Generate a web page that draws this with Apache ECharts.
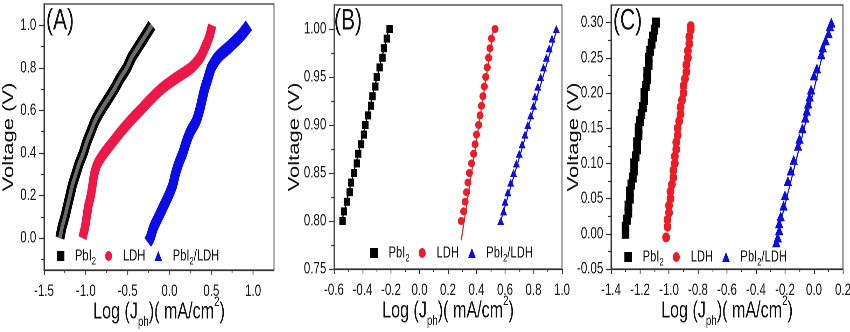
<!DOCTYPE html>
<html>
<head>
<meta charset="utf-8">
<script src="https://cdn.jsdelivr.net/npm/echarts@6/dist/echarts.min.js"></script>
<style>
  html, body { margin: 0; padding: 0; background: #fff; overflow: hidden; width: 850px; height: 332px; }
  /* the chart is laid out wide and condensed horizontally */
  #chart { position: absolute; left: 0; top: 0; width: 1214.29px; height: 332px; transform: scaleX(0.7); transform-origin: 0 0; }
</style>
</head>
<body>
<div id="chart"></div>
<script>
// ---------- panel A : full range ----------
const aPbI2V = [0, 0.05, 0.10, 0.15, 0.20, 0.25, 0.30, 0.35, 0.40, 0.45, 0.50, 0.55, 0.60, 0.65, 0.70, 0.75, 0.80, 0.85, 0.90, 0.95, 1.00];
const aPbI2J = [-1.31, -1.285, -1.25, -1.22, -1.19, -1.16, -1.12, -1.08, -1.03, -0.99, -0.94, -0.89, -0.82, -0.74, -0.66, -0.59, -0.51, -0.45, -0.37, -0.29, -0.21];
const aLdhV = [0, 0.05, 0.10, 0.15, 0.20, 0.25, 0.30, 0.35, 0.40, 0.45, 0.50, 0.55, 0.60, 0.65, 0.70, 0.75, 0.80, 0.85, 0.90, 0.95, 1.00];
const aLdhJ = [-1.04, -1.01, -0.99, -0.97, -0.94, -0.92, -0.90, -0.86, -0.78, -0.68, -0.58, -0.47, -0.35, -0.23, -0.10, 0.07, 0.26, 0.37, 0.43, 0.48, 0.51];
const aMixV = [-0.02, 0, 0.05, 0.10, 0.15, 0.20, 0.25, 0.30, 0.35, 0.40, 0.45, 0.50, 0.55, 0.60, 0.65, 0.70, 0.75, 0.80, 0.85, 0.90, 0.95, 1.00];
const aMixJ = [-0.26, -0.23, -0.19, -0.13, -0.07, -0.01, 0.04, 0.07, 0.11, 0.16, 0.20, 0.25, 0.32, 0.36, 0.39, 0.42, 0.46, 0.50, 0.58, 0.72, 0.85, 0.95];

// ---------- panel B : 0.80 - 1.00 V ----------
const bV = [0.80, 0.81, 0.82, 0.83, 0.84, 0.85, 0.86, 0.87, 0.88, 0.89, 0.90, 0.91, 0.92, 0.93, 0.94, 0.95, 0.96, 0.97, 0.98, 0.99, 1.00];
const bPbI2J = [-0.54, -0.53, -0.51, -0.49, -0.48, -0.46, -0.44, -0.43, -0.41, -0.39, -0.38, -0.36, -0.34, -0.33, -0.31, -0.30, -0.28, -0.26, -0.25, -0.23, -0.21];
const bLdhJ = [0.293, 0.31, 0.32, 0.33, 0.34, 0.35, 0.365, 0.38, 0.39, 0.40, 0.415, 0.425, 0.435, 0.445, 0.455, 0.465, 0.475, 0.485, 0.495, 0.505, 0.53];
const bMixJ = [0.57, 0.59, 0.60, 0.62, 0.64, 0.66, 0.68, 0.70, 0.72, 0.74, 0.76, 0.78, 0.80, 0.81, 0.83, 0.85, 0.87, 0.89, 0.91, 0.93, 0.96];
// linear fits
const bFitPbI2V = [0.80, 1.00], bFitPbI2J = [-0.545, -0.215];
const bFitLdhV = [0.78, 1.00], bFitLdhJ = [0.293, 0.52];
const bFitMixV = [0.80, 1.00], bFitMixJ = [0.57, 0.965];

// ---------- panel C : 0 - 0.30 V ----------
const cPbI2V = [0, 0.01, 0.02, 0.03, 0.04, 0.05, 0.06, 0.07, 0.08, 0.09, 0.10, 0.11, 0.12, 0.13, 0.14, 0.15, 0.16, 0.17, 0.18, 0.19, 0.20, 0.21, 0.22, 0.23, 0.24, 0.25, 0.26, 0.27, 0.28, 0.29, 0.30];
const cPbI2J = [-1.30, -1.30, -1.29, -1.28, -1.28, -1.27, -1.27, -1.26, -1.25, -1.24, -1.24, -1.23, -1.22, -1.22, -1.21, -1.21, -1.20, -1.19, -1.18, -1.17, -1.17, -1.16, -1.15, -1.15, -1.14, -1.14, -1.13, -1.12, -1.11, -1.10, -1.09];
const cLdhV = [-0.005, 0.01, 0.02, 0.03, 0.04, 0.05, 0.06, 0.07, 0.08, 0.09, 0.10, 0.11, 0.12, 0.13, 0.14, 0.15, 0.16, 0.17, 0.18, 0.19, 0.20, 0.21, 0.22, 0.23, 0.24, 0.25, 0.26, 0.27, 0.28, 0.29, 0.295];
const cLdhJ = [-1.02, -1.01, -1.01, -1.00, -1.00, -0.99, -0.99, -0.98, -0.97, -0.97, -0.96, -0.96, -0.95, -0.95, -0.94, -0.94, -0.93, -0.92, -0.92, -0.91, -0.90, -0.90, -0.89, -0.88, -0.88, -0.87, -0.87, -0.86, -0.86, -0.85, -0.85];
const cMixV = [-0.012, -0.005, 0.005, 0.015, 0.025, 0.040, 0.055, 0.075, 0.090, 0.105, 0.125, 0.135, 0.150, 0.165, 0.175, 0.185, 0.195, 0.205, 0.225, 0.235, 0.255, 0.265, 0.275, 0.285, 0.295, 0.300];
const cMixJ = [-0.26, -0.25, -0.24, -0.24, -0.23, -0.21, -0.20, -0.18, -0.16, -0.14, -0.11, -0.10, -0.08, -0.06, -0.05, -0.04, -0.03, -0.02, 0.00, 0.02, 0.05, 0.06, 0.08, 0.10, 0.11, 0.12];
const cFitMixV = [-0.012, 0.30], cFitMixJ = [-0.265, 0.115];

// ---------- tick values ----------
const aTicksX = [-1.5, -1.0, -0.5, 0.0, 0.5, 1.0];
const aMinorX = [-1.25, -0.75, -0.25, 0.25, 0.75];
const aTicksY = [0.0, 0.2, 0.4, 0.6, 0.8, 1.0];
const aMinorY = [-0.1, 0.1, 0.3, 0.5, 0.7, 0.9];
const bTicksX = [-0.6, -0.4, -0.2, 0.0, 0.2, 0.4, 0.6, 0.8, 1.0];
const bMinorX = [-0.5, -0.3, -0.1, 0.1, 0.3, 0.5, 0.7, 0.9];
const bTicksY = [0.75, 0.80, 0.85, 0.90, 0.95, 1.00];
const bMinorY = [0.775, 0.825, 0.875, 0.925, 0.975];
const cTicksX = [-1.4, -1.2, -1.0, -0.8, -0.6, -0.4, -0.2, 0.0, 0.2];
const cMinorX = [-1.3, -1.1, -0.9, -0.7, -0.5, -0.3, -0.1, 0.1];
const cTicksY = [-0.05, 0.00, 0.05, 0.10, 0.15, 0.20, 0.25, 0.30];
const cMinorY = [-0.025, 0.025, 0.075, 0.125, 0.175, 0.225, 0.275];

const panelLabels = ['(A)', '(B)', '(C)'];
const seriesNames = ['PbI2', 'LDH', 'PbI2/LDH'];

// ---------- styling ----------
const FONT = 'Liberation Sans, Arial, Helvetica, sans-serif';
const SX = 0.7;                  // horizontal condensing of the container
const px = v => v / SX;          // screen x distance -> chart x distance
const BLACK = '#000000', GRAY = '#6a6a6a', RED_A = '#ee1848', RED = '#ee1c25', BLUE = '#0c0ce6';
const AXIS = '#333333';
const TICK_FONT = 16.5;

const pairs = (J, V) => J.map((j, i) => [j, V[i]]);

const grids = [
  { left: px(44), top: 4, width: px(230), height: 266 },
  { left: px(334), top: 5, width: px(228), height: 264 },
  { left: px(611), top: 5, width: px(232), height: 264 }
];

const xTitle = '{m|Log (J}{s|ph}{m|)( mA/cm}{p|2}{m|)}';
const xTitleStyle = {
  rich: {
    m: { fontSize: 23, lineHeight: 34, color: '#111', fontFamily: FONT },
    s: { fontSize: 14, lineHeight: 13, verticalAlign: 'bottom', color: '#111', fontFamily: FONT },
    p: { fontSize: 14, lineHeight: 22, verticalAlign: 'top', color: '#111', fontFamily: FONT }
  }
};

function mainX(gi, min, max, ticks, dec) {
  return {
    type: 'value', gridIndex: gi, position: 'bottom', min, max,
    axisLine: { show: true, onZero: false, lineStyle: { color: AXIS, width: 1.2 } },
    axisTick: { show: true, length: 5, customValues: ticks, lineStyle: { color: AXIS, width: 1.2 } },
    axisLabel: { customValues: ticks, formatter: v => v.toFixed(dec), fontSize: TICK_FONT, color: '#1a1a1a', margin: 13, fontFamily: FONT },
    splitLine: { show: false },
    name: xTitle, nameLocation: 'middle', nameGap: 25, nameMoveOverlap: false, nameTextStyle: xTitleStyle
  };
}
function minorX(gi, min, max, ticks) {
  return {
    type: 'value', gridIndex: gi, position: 'bottom', min, max,
    axisLine: { show: false, onZero: false },
    axisTick: { show: true, length: 3, customValues: ticks, lineStyle: { color: AXIS, width: 1.2 } },
    axisLabel: { show: false }, splitLine: { show: false }
  };
}
function mainY(gi, min, max, ticks, dec, gap) {
  return {
    type: 'value', gridIndex: gi, position: 'left', min, max,
    axisLine: { show: true, onZero: false, lineStyle: { color: AXIS, width: 1.4 } },
    axisTick: { show: true, length: 7, customValues: ticks, lineStyle: { color: AXIS, width: 1.2 } },
    axisLabel: { customValues: ticks, formatter: v => v.toFixed(dec), fontSize: TICK_FONT, color: '#1a1a1a', margin: 11, fontFamily: FONT },
    splitLine: { show: false },
    name: 'Voltage (V)', nameLocation: 'middle', nameGap: gap, nameMoveOverlap: false,
    nameTextStyle: { fontSize: 22, color: '#111', fontFamily: FONT }
  };
}
function minorY(gi, min, max, ticks) {
  return {
    type: 'value', gridIndex: gi, position: 'left', min, max,
    axisLine: { show: false, onZero: false },
    axisTick: { show: true, length: 4, customValues: ticks, lineStyle: { color: AXIS, width: 1.2 } },
    axisLabel: { show: false }, splitLine: { show: false }
  };
}

const xAxes = [
  mainX(0, -1.5, 1.25, aTicksX, 1), minorX(0, -1.5, 1.25, aMinorX),
  mainX(1, -0.6, 1.0, bTicksX, 1), minorX(1, -0.6, 1.0, bMinorX),
  mainX(2, -1.4, 0.2, cTicksX, 1), minorX(2, -1.4, 0.2, cMinorX)
];
const yAxes = [
  mainY(0, -0.15, 1.1, aTicksY, 1, 39), minorY(0, -0.15, 1.1, aMinorY),
  mainY(1, 0.75, 1.025, bTicksY, 2, 45), minorY(1, 0.75, 1.025, bMinorY),
  mainY(2, -0.05, 0.325, cTicksY, 2, 42), minorY(2, -0.05, 0.325, cMinorY)
];

function band(name, J, V, color, width, z) {
  return {
    name, type: 'line', xAxisIndex: 0, yAxisIndex: 0, data: pairs(J, V),
    showSymbol: false, smooth: 0.25, lineStyle: { color, width, cap: 'butt', join: 'round' },
    itemStyle: { color }, z, animation: false
  };
}
function dots(name, gi, J, V, symbol, size, color) {
  return {
    name, type: 'scatter', xAxisIndex: gi * 2, yAxisIndex: gi * 2, data: pairs(J, V),
    symbol, symbolSize: size, itemStyle: { color, opacity: 1 }, z: 4, animation: false
  };
}
function fit(gi, J, V, color) {
  return {
    name: 'fit', type: 'line', xAxisIndex: gi * 2, yAxisIndex: gi * 2, data: pairs(J, V),
    showSymbol: false, lineStyle: { color, width: 1.6 }, itemStyle: { color }, z: 3, animation: false
  };
}

const series = [
  band(seriesNames[0], aPbI2J, aPbI2V, BLACK, 13, 2),
  band('PbI2 core', aPbI2J, aPbI2V, GRAY, 5, 3),
  band(seriesNames[1], aLdhJ, aLdhV, RED_A, 12, 2),
  band(seriesNames[2], aMixJ, aMixV, BLUE, 13, 2),

  fit(1, bFitPbI2J, bFitPbI2V, BLACK),
  fit(1, bFitLdhJ, bFitLdhV, RED),
  fit(1, bFitMixJ, bFitMixV, BLUE),
  dots(seriesNames[0], 1, bPbI2J, bV, 'rect', [9, 8], BLACK),
  dots(seriesNames[1], 1, bLdhJ, bV, 'circle', [10, 8], RED),
  dots(seriesNames[2], 1, bMixJ, bV, 'triangle', [10, 8], BLUE),

  fit(2, cFitMixJ, cFitMixV, BLUE),
  dots(seriesNames[0], 2, cPbI2J, cPbI2V, 'rect', [11, 10], BLACK),
  dots(seriesNames[1], 2, cLdhJ, cLdhV, 'circle', [11, 10], RED),
  dots(seriesNames[2], 2, cMixJ, cMixV, 'triangle', [12, 10], BLUE)
];

const legendRich = {
  g: { width: 10, fontSize: 16, lineHeight: 22, fontFamily: FONT },
  t: { fontSize: 16, lineHeight: 22, color: '#111', fontFamily: FONT },
  s: { fontSize: 11, lineHeight: 7, verticalAlign: 'bottom', color: '#111', fontFamily: FONT }
};
const legendText = n => n === 'LDH' ? '{g| }{t|LDH}' : (n === 'PbI2' ? '{g| }{t|PbI}{s|2}' : '{g| }{t|PbI}{s|2}{t|/LDH}');
const legendPos = [{ left: 81, top: 248 }, { left: 529, top: 245 }, { left: 892, top: 249 }];
const legends = legendPos.map((p, i) => ({
  left: p.left, top: p.top, padding: 0, itemGap: 13, itemWidth: 11, itemHeight: 10,
  selectedMode: false, orient: 'horizontal',
  data: [
    { name: seriesNames[0], icon: 'rect', itemStyle: { color: BLACK } },
    { name: seriesNames[1], icon: 'circle', itemStyle: { color: i === 0 ? RED_A : RED } },
    { name: seriesNames[2], icon: 'triangle', itemStyle: { color: BLUE } }
  ],
  formatter: legendText,
  textStyle: { rich: legendRich, color: '#111', fontFamily: FONT }
}));

const titleLeft = [px(46), px(334), px(613)];
const titles = panelLabels.map((t, i) => ({
  text: t, left: titleLeft[i], top: 6, padding: 0,
  textStyle: { fontSize: 30, fontWeight: 'normal', color: '#111', fontFamily: FONT }
}));

const chart = echarts.init(document.getElementById('chart'), null, { renderer: 'canvas', devicePixelRatio: 2 });
chart.setOption({
  animation: false,
  backgroundColor: '#ffffff',
  textStyle: { fontFamily: FONT },
  title: titles,
  legend: legends,
  grid: grids.map(g => Object.assign({
    show: true, borderColor: AXIS, borderWidth: 1.3, backgroundColor: 'transparent',
    containLabel: false, outerBoundsMode: 'none'
  }, g)),
  xAxis: xAxes,
  yAxis: yAxes,
  series
});
</script>
</body>
</html>
